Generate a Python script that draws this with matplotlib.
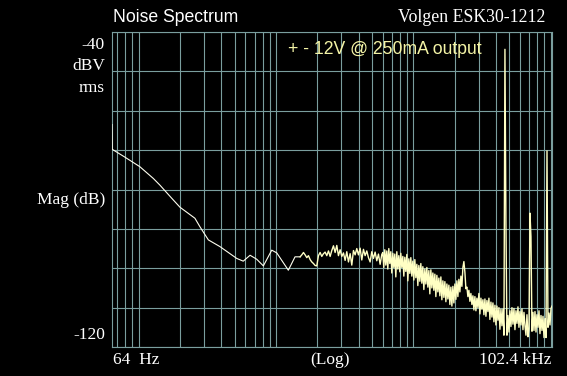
import numpy as np
import matplotlib
matplotlib.use("Agg")
import matplotlib.pyplot as plt

# ---- data (frequency in Hz, magnitude in dBV rms) ----
low_freq = [64, 64.3, 79.6, 102, 128, 143, 174, 200, 257, 280, 322, 391, 518,
            578, 648, 724, 810, 932, 1014, 1231, 1377]
low_db = [-63.5, -69.8, -71.8, -74.2, -77.2, -78.9, -82.2, -84.5, -87.3, -89.5,
          -92.8, -94.5, -97.5, -98.2, -96.7, -97.7, -99.4, -95.4, -96.1, -100.5,
          -97.1]

mid_range = (1500, 5900)
mid_db = [-97.1, -96.6, -96.0, -96.6, -97.3, -96.8, -97.8, -98.4, -98.8, -99.3,
          -99.4, -96.8, -96.0, -97.0, -96.3, -95.9, -96.8, -95.6, -97.0, -95.5,
          -94.3, -96.0, -94.2, -96.8, -95.3, -97.0, -96.1, -98.0, -95.8, -98.4,
          -96.3, -99.2, -95.5, -96.6, -95.0, -96.6, -94.9, -97.9, -95.2, -96.8,
          -95.6, -97.3, -98.4, -95.8, -97.5, -95.9, -98.1, -96.4, -99.0, -96.5]

high_range = (6000, 102400)
high_db = [-96.0, -99.8, -95.3, -99.2, -95.6, -100.2, -95.0, -98.8, -95.8, -101.2,
           -96.2, -99.8, -96.4, -102.2, -95.8, -100.2, -96.8, -100.9, -96.2, -99.8,
           -97.0, -102.0, -97.2, -100.8, -96.5, -103.2, -97.6, -101.3, -97.3, -102.0,
           -98.2, -103.0, -97.8, -102.4, -99.0, -104.4, -99.3, -103.3, -98.8, -103.8,
           -99.6, -105.4, -100.2, -104.0, -99.8, -104.8, -100.6, -106.5, -100.4, -105.0,
           -101.2, -105.6, -101.5, -107.2, -101.8, -106.0, -102.5, -107.0, -102.2, -108.0,
           -103.2, -107.4, -103.4, -108.5, -104.0, -107.8, -104.3, -109.2, -104.8, -109.6,
           -104.6, -108.8, -104.0, -107.9, -103.2, -107.2, -102.8, -106.0, -102.0, -104.6,
           -99.8, -98.3, -101.0, -105.2, -104.8, -107.2, -105.6, -108.4, -106.4, -109.2,
           -107.0, -110.6, -107.2, -110.8, -107.6, -110.0, -106.4, -111.6, -107.6, -110.4,
           -108.0, -111.8, -107.8, -112.2, -108.2, -111.0, -107.6, -113.0, -108.6, -112.4,
           -108.8, -113.6, -109.4, -114.4, -109.6, -113.2, -110.0, -115.5, -110.4, -114.6,
           -110.4, -117.0, -44.4, -88.5, -117.0, -112.0, -116.2, -110.8, -114.8, -110.0,
           -114.2, -110.2, -115.6, -110.8, -114.0, -109.8, -115.0, -111.0, -114.4, -110.3,
           -115.6, -111.2, -114.6, -117.0, -111.8, -117.4, -115.4, -86.0, -92.0, -116.0,
           -111.2, -115.8, -111.0, -116.2, -111.8, -115.0, -110.8, -116.6, -112.0, -115.8,
           -112.2, -117.6, -112.8, -117.6, -70.2, -115.0, -111.4, -114.4, -110.2, -109.6]

f_min, f_max = 64, 102400
db_min, db_max = -120, -40

# ---- assemble the trace ----
mid_freq = np.geomspace(mid_range[0], mid_range[1], len(mid_db))
high_freq = np.geomspace(high_range[0], high_range[1], len(high_db))

grid_col = "#7a9e9e"
trace_col = "#ffffc4"

fig = plt.figure(figsize=(5.67, 3.76), dpi=100, facecolor="black")
ax = fig.add_axes([112 / 567, 29 / 376, 440 / 567, 315 / 376], facecolor="black")
ax.set_xscale("log")
ax.set_xlim(f_min, f_max)
ax.set_ylim(db_min, db_max)
ax.set_yticks(np.arange(db_min, db_max + 1, 10))
ax.xaxis.set_minor_locator(matplotlib.ticker.LogLocator(base=10, subs=np.arange(2, 10)))
ax.grid(True, which="both", axis="x", color=grid_col, lw=0.8)
ax.grid(True, which="major", axis="y", color=grid_col, lw=0.8)
ax.tick_params(which="both", length=0, labelbottom=False, labelleft=False)
for s in ax.spines.values():
    s.set_color(grid_col)
    s.set_linewidth(0.8)

ax.plot(np.concatenate([low_freq, mid_freq[:1]]), np.concatenate([low_db, mid_db[:1]]),
        color="#fffff0", lw=0.8, zorder=3)
ax.plot(np.concatenate([mid_freq, high_freq]), np.concatenate([mid_db, high_db]),
        color=trace_col, lw=1.0, zorder=3)

# ---- texts ----
sans = ["Liberation Sans", "DejaVu Sans"]
serif = ["Liberation Serif", "DejaVu Serif"]
W, H = 567, 376

def px(x, y):
    return x / W, 1 - y / H

fig.text(*px(113, 17), "Noise Spectrum", family=sans, size=12.7, color="white",
         ha="left", va="center")
fig.text(*px(545, 18), "Volgen ESK30-1212", family=serif, size=12.8, color="white",
         ha="right", va="center")
fig.text(*px(385, 50), "+ - 12V @ 250mA output", family=sans, size=12.7,
         color="#f4f4a6", ha="center", va="center")
for label, y in [("-40", 45), ("dBV", 66), ("rms", 88), ("Mag (dB)", 200), ("-120", 335)]:
    fig.text(*px(105, y), label, family=serif, size=12.5, color="white",
             ha="right", va="center")
fig.text(*px(113, 360), "64  Hz", family=serif, size=12.5, color="white",
         ha="left", va="center")
fig.text(*px(330, 360), "(Log)", family=serif, size=12.5, color="white",
         ha="center", va="center")
fig.text(*px(551, 360), "102.4 kHz", family=serif, size=12.5, color="white",
         ha="right", va="center")

fig.savefig("out.png", dpi=100, facecolor="black")
